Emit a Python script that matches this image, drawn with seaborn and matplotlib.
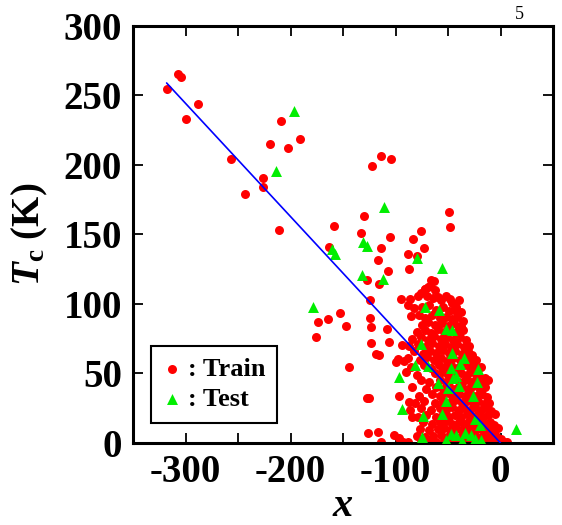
import matplotlib
matplotlib.use("Agg")
import matplotlib.pyplot as plt
import matplotlib.ticker as ticker
import pandas as pd
import seaborn as sns

# Train points: sparse ones first, then the dense core near x=0
outer_x = [-318, -306.7, -304, -288, -299.6, -209, -219.5, -202, -191, -257,
           -226.5, -226.5, -243, -210.5, -122, -113.4, -104, -130, -158.6, -133,
           -105.5, -114, -117, -163, -48.7, -47.7, -76, -83, -73, -88,
           -80, -107.5, -127, -115.5, -124.5, -94.7, -152.8, -164, -174, -147,
           -175.5, -124, -123, -107.8, -123.5, -106, -94, -118.5, -116, -98,
           -99.6, -91.6, -144, -127.6, -125, -96.4, -126.6, -117, -114, -101,
           -93.2, -88.4, -87.4, -63.8, -68.6, -71.8, -76, -86, -59.4, -48.5,
           -42, -84.9, -87.4, -86, -84, -97, -66]
outer_y = [255, 265.7, 263, 244, 233, 232, 215, 212, 219, 204,
           191, 184, 179, 153, 199, 206.5, 204, 163.5, 156, 151,
           148, 140.5, 131.7, 141, 166.5, 155.5, 152.5, 146.5, 140.5, 136,
           134.5, 124, 117, 114.5, 103, 103.6, 93.7, 89, 87, 84.2,
           76.5, 89.7, 83.7, 81.8, 72.2, 72.9, 70.5, 64, 63, 60.5,
           58.5, 59.2, 55, 32.2, 32.2, 34, 7, 7.9, 1, 5.8,
           1, 99, 125, 116.8, 112.4, 110.6, 108.1, 103.4, 105.3, 103.4,
           98, 91.4, 29.7, 23.7, 19, 3.4, 117]

core_x = [-72, -67, -62, -79, -70, -64, -57, -52, -46, -40,
          -82, -75, -68, -61, -55, -49, -44, -38,
          -78, -72, -65, -58, -52, -46, -41, -36,
          -75, -69, -62, -56, -50, -44, -38,
          -80, -72, -66, -60, -54, -48, -42, -36, -40,
          -84, -76, -69, -63, -57, -51, -45, -39, -33,
          -87, -79, -72, -65, -59, -53, -47, -41, -35, -30,
          -82, -74, -67, -61, -55, -49, -43, -37, -31, -27,
          -88, -77, -70, -63, -57, -51, -45, -39, -33, -28, -23,
          -85, -73, -66, -59, -53, -47, -41, -35, -29, -24, -19,
          -90, -80, -62, -56, -50, -44, -38, -32, -26, -21, -15, -12,
          -76, -68, -58, -52, -46, -40, -34, -28, -23, -18,
          -84, -71, -61, -55, -49, -43, -37, -31, -26, -20, -15,
          -78, -65, -58, -52, -46, -40, -34, -29, -23, -18, -13,
          -81, -73, -62, -55, -49, -43, -37, -32, -26, -21, -16, -11,
          -76, -66, -58, -52, -46, -40, -35, -29, -24, -19, -14, -9,
          -79, -71, -61, -55, -49, -43, -38, -32, -27, -22, -17, -12, -5.5,
          -74, -65, -58, -52, -46, -40, -35, -30, -25, -20, -15, -10, -6,
          -77, -68, -60, -54, -48, -42, -37, -32, -27, -22, -17, -12, -7, -2.3,
          -80, -72, -64, -57, -51, -45, -39, -34, -29, -24, -19, -14, -9, -4, 0,
          -88, -76, -68, -61, -54, -48, -42, -36, -31, -26, -21, -16, -11, -6, -1, 3, 6]
core_y = [111, 113, 110, 106, 106, 104, 103, 106, 101, 103,
          97, 98, 99, 96, 98, 95, 96, 94,
          92, 90, 92, 90, 91, 89, 91, 88,
          85, 87, 85, 86, 84, 86, 84,
          80, 81, 79, 82, 80, 81, 79, 81, 83,
          75, 76, 74, 77, 75, 76, 74, 76, 74,
          70, 71, 69, 72, 70, 71, 69, 71, 69, 70,
          66, 64, 66, 65, 67, 65, 66, 64, 66, 63,
          61, 60, 62, 60, 61, 59, 61, 60, 62, 59, 60,
          55, 56, 54, 56, 55, 56, 54, 56, 54, 56, 55,
          51, 49, 50, 51, 49, 51, 50, 49, 51, 49, 47, 45,
          45, 44, 45, 44, 46, 44, 45, 44, 46, 43,
          40, 39, 40, 39, 41, 39, 40, 39, 41, 38, 40,
          34, 35, 34, 36, 34, 35, 34, 36, 34, 35, 33,
          29, 30, 29, 30, 29, 31, 29, 30, 29, 30, 28, 29,
          25, 24, 25, 24, 26, 24, 25, 24, 26, 24, 25, 23,
          19, 20, 19, 21, 19, 20, 19, 21, 19, 20, 19, 20, 21,
          15, 14, 15, 16, 14, 15, 14, 16, 14, 15, 14, 15, 13,
          10, 9, 10, 11, 9, 10, 9, 11, 9, 10, 9, 10, 9, 10.6,
          5, 4, 5, 6, 4, 5, 4, 6, 4, 5, 4, 5, 4, 5, 3,
          1, 0.5, 1, 0.5, 1.5, 0.5, 1, 0.5, 1.5, 0.5, 1, 0.5, 1, 0.5, 1, 0.5, 1]

train_x = outer_x + core_x
train_y = outer_y + core_y

test_x = [-197, -213.7, -110.5, -130.5, -127, -160.5, -158, -80, -56, -132,
          -112, -179, -72, -59, -52, -46, -76, -46, -34.5, -81,
          -69, -39, -47, -21, -42, -45.5, -96.5, -59.5, -22.5, -50,
          -40, -26.5, -52, -94, -55.5, -73.5, -24, -19.5, 15, -75,
          -47.6, -42, -34, -28, -24, -19, -52, -37]
test_y = [238.7, 195.8, 170, 144.5, 142, 139.5, 136, 133, 126, 121,
          118, 97.5, 98, 96, 82, 81.5, 71, 64.8, 61, 56.3,
          55.5, 57, 54.3, 53, 48.5, 46.5, 47.5, 43, 44, 39.3,
          41.2, 33.8, 30.4, 24.7, 21, 19.5, 17, 12.6, 10, 4.5,
          6.5, 5.8, 7, 5.8, 3, 2, 2, 1.5]

# fitted line
fit_x = [-318, 0]
fit_y = [259, 0]

sns.set_theme(style='ticks')
plt.rcParams['font.family'] = ['Liberation Serif', 'DejaVu Serif']
plt.rcParams['font.weight'] = 'bold'
plt.rcParams['text.color'] = 'black'
plt.rcParams['axes.unicode_minus'] = False
plt.rcParams['mathtext.fontset'] = 'custom'
plt.rcParams['mathtext.rm'] = 'Liberation Serif:bold'
plt.rcParams['mathtext.bf'] = 'Liberation Serif:bold'
plt.rcParams['mathtext.it'] = 'Liberation Serif:italic:bold'
plt.rcParams['mathtext.bfit'] = 'Liberation Serif:italic:bold'

df_train = pd.DataFrame({'x': train_x, 'Tc': train_y})
df_test = pd.DataFrame({'x': test_x, 'Tc': test_y})

fig = plt.figure(figsize=(5.62, 5.25), dpi=100)
ax = fig.add_axes([0.2367, 0.1562, 0.7473, 0.7943])

sns.scatterplot(data=df_train, x='x', y='Tc', ax=ax, color='#ff0000', marker='o',
                s=42, linewidth=0, label=': Train', zorder=2)
sns.scatterplot(data=df_test, x='x', y='Tc', ax=ax, color='#00ee00', marker='^',
                s=62, linewidth=0, label=': Test', zorder=3)
sns.lineplot(x=fit_x, y=fit_y, ax=ax, color='#0000ff', lw=1.2, zorder=4, legend=False)

ax.set_xlim(-350, 50)
ax.set_ylim(0, 300)
ax.xaxis.set_major_locator(ticker.FixedLocator([-300, -200, -100, 0]))
ax.xaxis.set_minor_locator(ticker.MultipleLocator(50))
ax.yaxis.set_major_locator(ticker.MultipleLocator(50))
ax.tick_params(which='both', direction='in', top=True, right=True, length=7,
               width=1.3, color='black', labelsize=28, pad=8, labelcolor='black')

for sp in ax.spines.values():
    sp.set_linewidth(2.2)
    sp.set_color('black')

ax.set_xlabel('x', fontsize=29, fontstyle='italic', fontweight='bold', color='black')
ax.set_ylabel(r'$\mathbfit{T}_{\mathbf{c}}$ (K)', fontsize=28, fontweight='bold', color='black')
ax.xaxis.set_label_coords(0.5, -0.108)
ax.yaxis.set_label_coords(-0.198, 0.5)

leg = ax.legend(loc='lower left', bbox_to_anchor=(0.043, 0.048), borderaxespad=0,
                fontsize=19, frameon=True, fancybox=False, edgecolor='black',
                framealpha=1, handletextpad=0.25, handlelength=0.7,
                labelspacing=0.25, borderpad=0.45)
leg.get_frame().set_linewidth(1.5)
for t in leg.get_texts():
    t.set_color('black')

fig.text(0.9235, 0.973, '5', fontsize=13, fontweight='normal', color='black',
         ha='center', va='center')

fig.savefig('out.png', dpi=100)
